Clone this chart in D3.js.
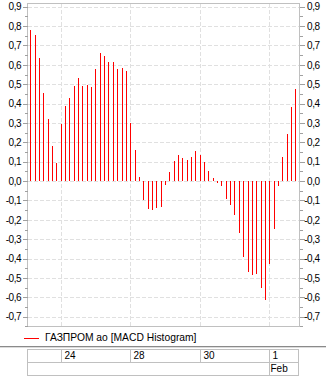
<!DOCTYPE html>
<html>
<head>
<meta charset="utf-8">
<script src="https://cdn.jsdelivr.net/npm/d3@7/dist/d3.min.js"></script>
<style>
  html, body { margin: 0; padding: 0; background: #fff; }
  svg { display: block; }
  text { font-family: "Liberation Sans", Arial, sans-serif; font-size: 10px; fill: #000; }
</style>
</head>
<body>
<svg id="chart" width="326" height="383"></svg>
<script>
// MACD histogram, hourly bars (8 per trading day)
const histogram = [
  0.779, 0.755, 0.636, 0.454, 0.322, 0.182, 0.093,
  0.296, 0.389, 0.430, 0.492, 0.533, 0.492, 0.497, 0.487,
  0.580, 0.662, 0.647, 0.616, 0.616, 0.580, 0.583, 0.569,
  0.299, 0.160, 0.021, -0.093, -0.139, -0.144, -0.134, -0.129,
  -0.015, 0.048, 0.103, 0.136, 0.119, 0.108, 0.125, 0.155,
  0.134, 0.098, 0.052, 0.017, -0.003, -0.021, -0.086, -0.119,
  -0.169, -0.263, -0.387, -0.464, -0.480, -0.475, -0.547, -0.607,
  -0.421, -0.243, -0.019, 0.125, 0.243, 0.382, 0.475
];
const dayLabels = ["24", "28", "30", "1"];
const dayStartIndex = [7, 23, 39, 55];
const monthLabels = ["Feb"];
const monthStartIndex = [55];
const majorTicks = [-0.7, -0.6, -0.5, -0.4, -0.3, -0.2, -0.1, 0, 0.1, 0.2, 0.3, 0.4, 0.5, 0.6, 0.7, 0.8, 0.9];
const minorTicks = [-0.75, -0.65, -0.55, -0.45, -0.35, -0.25, -0.15, -0.05, 0.05, 0.15, 0.25, 0.35, 0.45, 0.55, 0.65, 0.75, 0.85];
const seriesName = "ГАЗПРОМ ао [MACD Histogram]";

const svg = d3.select("#chart");
const plot = { left: 27.5, right: 299.5, top: 3.5, bottom: 326.5 };

const x = d3.scaleLinear().domain([0, histogram.length - 1]).range([30.3, 295.3]);
const y = d3.scaleLinear().domain([-0.7, 0.9]).range([316.7, 6.7]);
const px = v => Math.round(v) + 0.5;

const locale = d3.formatLocale({ decimal: ",", thousands: " ", grouping: [3], currency: ["", ""], minus: "-" });
const fmt = locale.format(".1f");

const gridColor = "#e0e0e0";
const frameColor = "#c0c0c0";

// horizontal grid
svg.append("g").selectAll("line").data(majorTicks).join("line")
  .attr("x1", plot.left).attr("x2", plot.right)
  .attr("y1", d => px(y(d))).attr("y2", d => px(y(d)))
  .attr("stroke", gridColor).attr("stroke-dasharray", "4,2")
  .attr("shape-rendering", "crispEdges");

// vertical grid at day boundaries
svg.append("g").selectAll("line").data(dayStartIndex).join("line")
  .attr("x1", d => px(x(d))).attr("x2", d => px(x(d)))
  .attr("y1", plot.top).attr("y2", plot.bottom)
  .attr("stroke", gridColor).attr("stroke-dasharray", "4,2")
  .attr("shape-rendering", "crispEdges");

// histogram bars
svg.append("g").selectAll("line").data(histogram).join("line")
  .attr("x1", (d, i) => px(x(i))).attr("x2", (d, i) => px(x(i)))
  .attr("y1", Math.round(y(0)))
  .attr("y2", d => d >= 0 ? Math.round(y(d)) : Math.round(y(d)) + 1)
  .attr("stroke", "#ff0000").attr("stroke-width", 1)
  .attr("shape-rendering", "crispEdges");

// frame
svg.append("rect")
  .attr("x", plot.left).attr("y", plot.top)
  .attr("width", plot.right - plot.left).attr("height", plot.bottom - plot.top)
  .attr("fill", "none").attr("stroke", frameColor).attr("shape-rendering", "crispEdges");

// axes
function styleAxis(g) {
  g.select(".domain").remove();
  g.selectAll(".tick line").attr("stroke", "#a0a0a0").attr("shape-rendering", "crispEdges");
  g.selectAll("text").attr("font-family", null).attr("font-size", null).style("letter-spacing", "-0.5px");
}
const leftMajor = svg.append("g").attr("transform", `translate(${plot.left},0)`)
  .call(d3.axisLeft(y).tickValues(majorTicks).tickSize(5).tickPadding(2).tickFormat(fmt)).call(styleAxis);
svg.append("g").attr("transform", `translate(${plot.left},0)`)
  .call(d3.axisLeft(y).tickValues(minorTicks).tickSize(3).tickFormat("")).call(styleAxis);
const rightMajor = svg.append("g").attr("transform", `translate(${plot.right},0)`)
  .call(d3.axisRight(y).tickValues(majorTicks).tickSize(5).tickPadding(2).tickFormat(fmt)).call(styleAxis);
svg.append("g").attr("transform", `translate(${plot.right},0)`)
  .call(d3.axisRight(y).tickValues(minorTicks).tickSize(3).tickFormat("")).call(styleAxis);
// right labels are right-aligned like the left ones
rightMajor.selectAll("text").attr("text-anchor", "end").attr("x", 20);
leftMajor.selectAll("text").attr("x", -6.5);

// legend
svg.append("line").attr("x1", 24).attr("x2", 39).attr("y1", 338.5).attr("y2", 338.5)
  .attr("stroke", "#ff0000").attr("shape-rendering", "crispEdges");
svg.append("text").attr("x", 45).attr("y", 341).style("font-size", "10.3px").text(seriesName);
svg.append("line").attr("x1", 0).attr("x2", 326).attr("y1", 346.5).attr("y2", 346.5)
  .attr("stroke", "#8a8a8a").attr("shape-rendering", "crispEdges");
svg.append("line").attr("x1", 0).attr("x2", 326).attr("y1", 347.5).attr("y2", 347.5)
  .attr("stroke", "#dcdcdc").attr("shape-rendering", "crispEdges");

// date axis table
const tbl = { top: 349.5, mid: 362.5, bottom: 375.5, left: 27.5, right: 298.5 };
const tg = svg.append("g").attr("stroke", frameColor).attr("shape-rendering", "crispEdges");
tg.append("rect").attr("x", tbl.left).attr("y", tbl.top)
  .attr("width", tbl.right - tbl.left).attr("height", tbl.bottom - tbl.top).attr("fill", "none");
tg.append("line").attr("x1", tbl.left).attr("x2", tbl.right).attr("y1", tbl.mid).attr("y2", tbl.mid);
tg.selectAll(".day").data(dayStartIndex).join("line").attr("class", "day")
  .attr("x1", d => px(x(d))).attr("x2", d => px(x(d))).attr("y1", tbl.top).attr("y2", tbl.mid);
tg.selectAll(".mon").data(monthStartIndex).join("line").attr("class", "mon")
  .attr("x1", d => px(x(d))).attr("x2", d => px(x(d))).attr("y1", tbl.mid).attr("y2", tbl.bottom);

svg.append("g").selectAll("text").data(dayLabels).join("text")
  .attr("x", (d, i) => px(x(dayStartIndex[i])) + 3).attr("y", 359).text(d => d);
svg.append("g").selectAll("text").data(monthLabels).join("text")
  .attr("x", (d, i) => px(x(monthStartIndex[i])) + 1).attr("y", 372).text(d => d);
</script>
</body>
</html>
